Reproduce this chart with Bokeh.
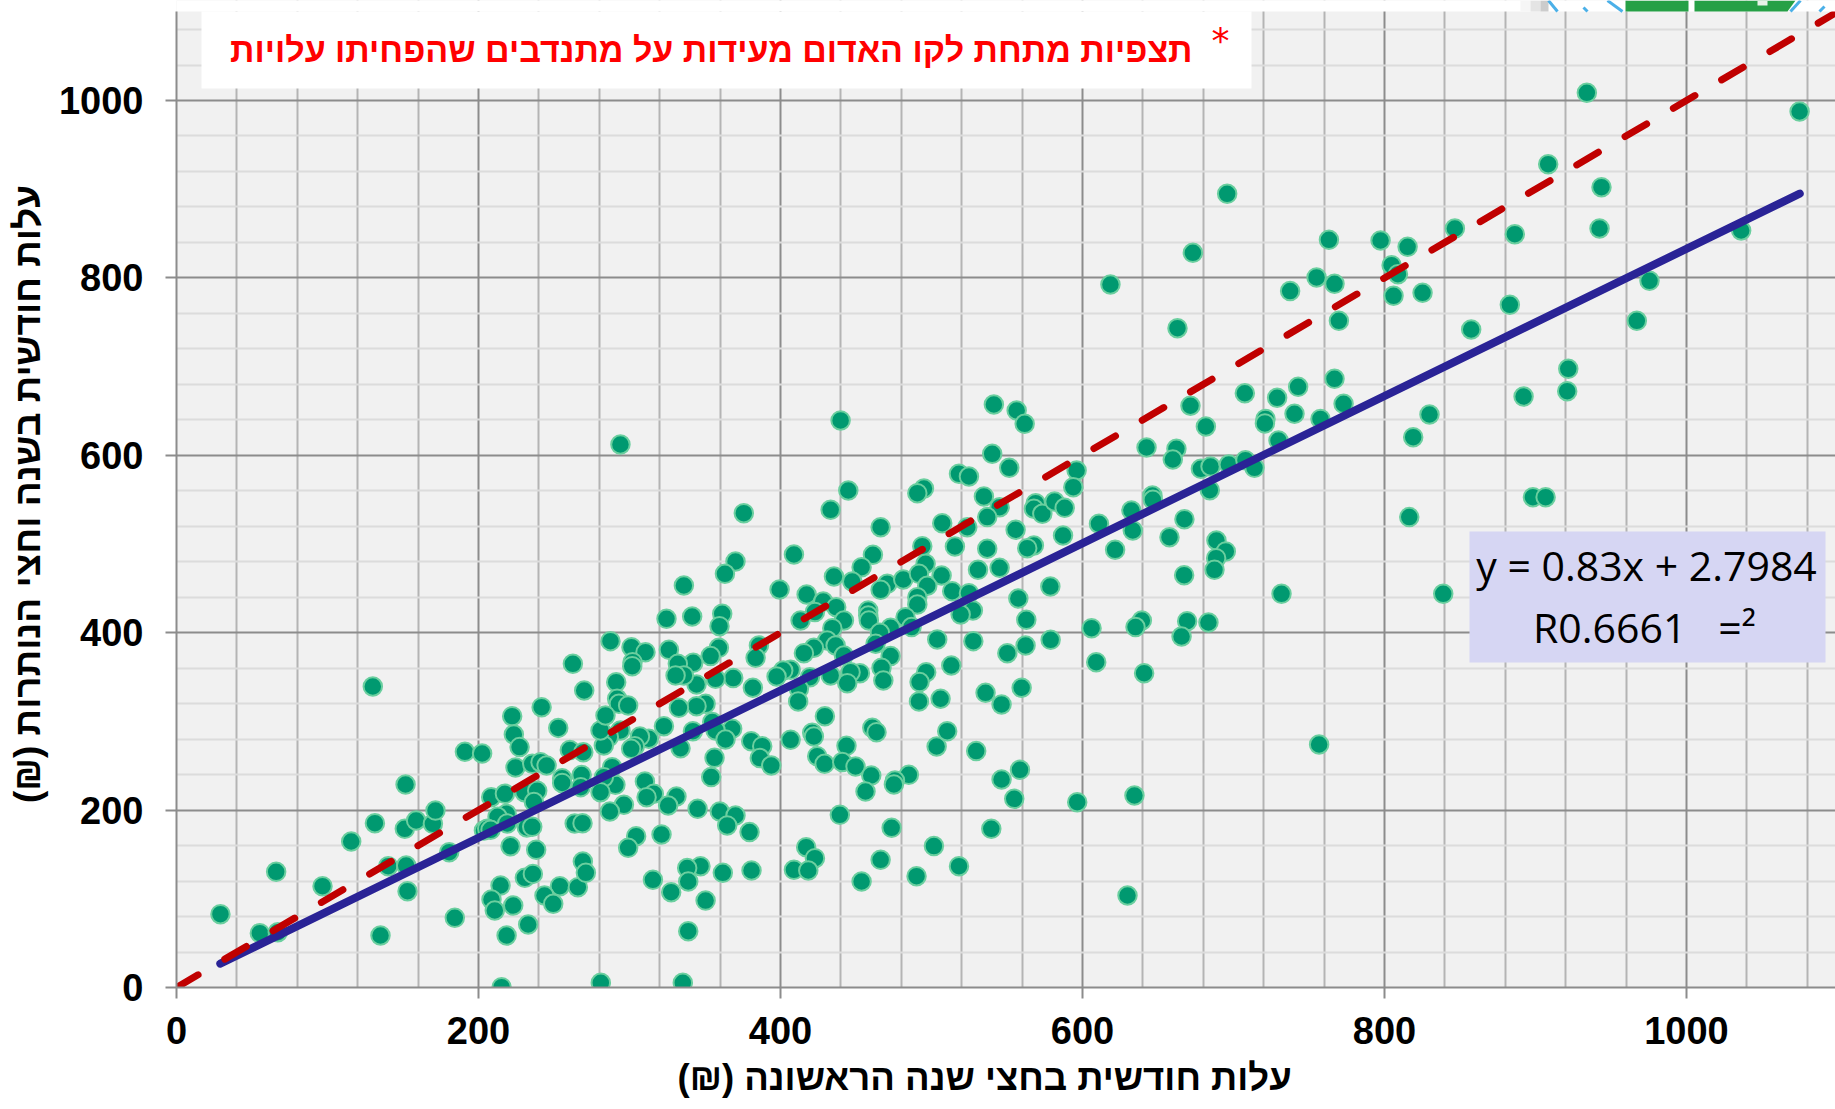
from bokeh.plotting import figure
from bokeh.models import Range1d, FixedTicker, Label, Title
from bokeh.embed import file_html
from bokeh.resources import INLINE

# Volunteers below 280
low_x = [29.1,66,55.2,67.1,135.1,96.7,115.7,131.4,130,151.7,151.2,158.7,169.8,171.5,140.2,152.1,153,180.6,184.3,191,
         202.4,208.4,217.5,218.6,212.6,219,203.6,205.8,208,221.2,238.2,214.6,208.6,210.8,223,218.6,232.9,215.3,230.7,236,
         253.9,265.8,243.7,249.5,269.1,271.1,222.3,241.8,223.4,227.2,224.5,235.6,241.1,245.1,252.8,262.5,270,260.5,269.4,230.5,
         238.9,236.7,255.4,255.4,268.3,267.7,263.7,268.9,232,235.6]
low_y = [82.7,130.4,61.3,62.4,58.6,114.2,164.6,185.3,339.3,228.9,178.9,188.3,184.5,199.5,136.8,137.5,108.6,152.6,78.5,265.7,
         263.8,214.6,218.3,195.8,192.5,185,177,178.9,177.8,159.3,155.2,115,99.2,86.8,92.4,58.6,71,0.4,123.6,128.1,
         114.2,113.1,103.7,94.3,142,129.3,305.9,316,285.2,271,248,252.2,254,250.3,292.7,364.9,334.8,267.8,265.3,220.2,
         221.7,209,236,230.6,239.6,225.9,184.9,185.3,180.5,181.1]

# Volunteers from 280 to 612: first half above 300 in the second period
mid_up_x = [541.3,556.4,561.7,439.8,294,540.2,551.5,518.2,524.8,444.9,495,490.6,534.7,545.1,536.9,569,567.8,573.4,581.5,588.2,
            596.1,593.9,587.1,610.9,433.2,375.7,466.3,507.1,523.7,555.7,515.5,536.9,567.8,563.4,370.2,363.2,408.9,461.2,453.7,493.9,
            496.1,530.8,545.1,336,435.4,447.5,470.7,466.3,481.3,491.7,506.7,497.2,513.7,524.8,399.4,557.5,578.7,417.3,428.3,422.8,
            436.9,413.3,490.6,490.6,527.4,519.3,562.8,324.5,341.5,361.4,359.6,458.1,458.1,458.5,442,434.3,482.8,472.9,465.8,486.8,
            430.9,436.5,463,606,578.9,562.3,550.2,527.7,503.8,287.4,301.3,310.6,326.1,385.7,383.5,359.2,353.7,342.2,332,302,
            301.8,422.1,415.5,442,472.9,609.1,513.1,496.5,492.1,466.9,468.1,452.6,446.4,444.2,433.2,419.5,406.7,401.8,397.4,412.2,
            411.7,381.7,368.7,357,344.4,336,330.5,291.2,535.8,546.4,559.7,491.7,506,291.8,293,299.1,350.4,344.4,332.7,284.1,429.4]
mid_up_y = [657.3,650.5,635.5,639.3,612.2,601.7,585.9,579.1,576.1,560.3,562.6,557.3,553.6,541.5,530.3,546,539.7,534,547.9,540.8,
            582.9,564.1,509.6,522.8,538.5,534.8,519,523.5,519,516,497.2,494.6,498.3,495.3,480.3,466.4,488.2,487.8,473.9,497.6,
            477.7,470.9,473.1,453.2,463.4,457.7,455.1,448.3,460,466.4,464.5,452.9,446.8,444.6,448.7,438.6,452.1,443.1,435.2,423.2,
            428.8,413.8,440.1,431.8,425,420.5,414.5,415.6,418.3,421.3,407.4,425,419.4,413.8,413.8,405.1,417.5,405.5,399.9,406.3,
            391.2,385.6,387.5,405.1,392,385.6,376.9,390.5,392.4,390.5,383.7,378.1,380.7,385.6,371.7,382.9,373.6,366,364.9,366.8,
            362.3,383,376.9,374.3,373.6,366.8,363,355.5,344.3,360.4,346.1,354.4,355.5,343.1,351.8,349.9,358.1,357.4,350.6,336.7,
            322.5,337.9,348.8,348,341.6,351.8,351.8,344.2,332.2,319.1,337.9,322.5,325.5,325.5,319.8,318,319.8,317.2,315.3,306.7,305.9]

# Volunteers from 280 to 612: below 300 in the second period
mid_down_x = [322.8,354.8,368,357,342,460.8,463.6,421,422.1,510.4,503.4,529.6,406.7,380.6,387.9,363.6,443.7,312.8,306.9,294,
              286.3,283,303.5,301.1,333.8,424.3,429.2,440.9,449.7,460.1,356.3,354.1,386.3,393.9,485,475.8,475.1,456.3,558.6,546.4,
              554.8,596.5,310.2,290.7,288.5,283,280.8,316.1,311.3,331.1,325.6,296.3,287,345.1,359.8,370.2,364.7,379.5,439.3,473.6,
              539.6,304.4,321.2,299.1,501.6,417,422.8,466.3,518.2,408.9,418.4,380.8,361.8,347,338.2,338.9,315.5,490.1,453.7,327.6,
              350.4,338.9,335.3,281,280.8]
mid_down_y = [294.6,299.2,291.6,289.8,289,292.8,287.9,287.1,283,289,271.7,266.5,279.2,277.7,272.1,279.6,272.5,280.4,283,289.8,
              282.3,272.8,272.1,269.1,269.8,260.8,252.2,254.1,249.2,239,258.9,237.2,258.6,250.3,239.8,233.4,228.9,221,245.4,234.5,
              212.7,208.9,232.3,228.5,248.4,237.1,220.2,218.4,214.6,215.3,205.2,205.9,198.4,201.4,198.4,193.9,182.7,175.2,194.7,180,
              178.9,170.6,172.5,157.5,159.4,158.2,145.8,143.9,136.8,132.7,131.9,131.9,129.3,136.8,134.6,119.5,121.4,125.5,119.5,107.5,
              98,63.5,5.3,5.3,289.8]

# Volunteers above 612
high_x = [934,1074.9,908.4,943.7,942.4,886.3,1036.2,883,975.5,967.1,695.8,673.1,618.5,662.9,763.2,797.4,815.3,804.7,808.9,806,
          825.2,755,766.9,737.5,769.8,846.6,857.4,921.7,921,892.1,829.8,819,766.9,742.8,707.5,728.9,740.4,772.9,757.6,721.2,
          720.8,729.8,671.5,681.7,642.4,662.2,659.8,678.4,684.8,696.9,707.9,713.9,684.3,646.3,646.6,898.3,906.7,632.4,667.5,633.3,
          657.6,621.6,688.7,694.9,688.5,687.4,667.3,731.8,816.4,838.9,639.3,635.1,669.3,683.4,665.6,640.8,756.7,634.4,629.8]
high_y = [1008.6,987.6,928.2,902.3,855.7,849.3,853.4,769.6,796.7,751.6,894.8,828.3,792.6,743.3,842.9,842.2,835,814.4,804.2,779.8,
          783.2,800.5,793.3,785.1,751.6,855.7,741.8,697.5,672.3,666.3,646,620.4,686.2,677.2,670,664.8,646.8,658,641,641,
          635.9,616.7,655.8,632.5,608.8,607.3,595.3,584.7,587.4,589.6,594.5,585.9,560.7,554.7,549.8,552.8,552.8,537.8,528,515.2,
          507.7,493.4,503.9,491.6,484,470.9,464.9,443.8,530.3,443.8,413.8,406.3,413,411.5,395.7,354.4,274,216.5,103.7]

# Reference and fit lines
identity_x = [0, 1100]
identity_y = [0, 1100]
trend_slope = 0.83
trend_intercept = 2.7984
trend_x = [29, 1075]
trend_y = [trend_slope * v + trend_intercept for v in trend_x]

x_major = [0, 200, 400, 600, 800, 1000]
y_major = [0, 200, 400, 600, 800, 1000]
minor_ticks = [v for v in range(0, 1100, 40) if v % 200]

x_title = "עלות חודשית בחצי שנה הראשונה (₪)\u200f"
y_title = "עלות חודשית בשנה וחצי הנותרות (₪)\u200f"
note_text = "תצפיות מתחת לקו האדום מעידות על מתנדבים שהפחיתו עלויות"
eq_line = "y = 0.83x + 2.7984"
r2_line = "R0.6661\u00a0\u00a0\u00a0=²"

XPX, YPX = 1.51, 0.887
def dx(px):
    return (px - 176) / XPX
def dy(py):
    return (987 - py) / YPX

p = figure(width=1835, height=1109, output_backend="svg", toolbar_location=None,
           x_range=Range1d(dx(176), dx(1835)), y_range=Range1d(0, dy(0)),
           min_border_left=176, min_border_right=0, min_border_top=0, min_border_bottom=122,
           background_fill_color="#f1f1f1", border_fill_color="#ffffff", outline_line_color=None)

for axis, ticks in ((p.xaxis[0], x_major), (p.yaxis[0], y_major)):
    axis.ticker = FixedTicker(ticks=ticks, minor_ticks=minor_ticks)
    axis.axis_line_color = "#8c8c8c"
    axis.axis_line_width = 2
    axis.major_tick_line_color = "#8c8c8c"
    axis.major_tick_line_width = 2
    axis.major_tick_out = 11
    axis.major_tick_in = 0
    axis.minor_tick_out = 0
    axis.minor_tick_in = 0
    axis.major_label_text_font = "Liberation Sans"
    axis.major_label_text_font_style = "bold"
    axis.major_label_text_font_size = "38px"
    axis.major_label_text_color = "#000000"
p.xaxis[0].major_label_standoff = 18
p.yaxis[0].major_label_standoff = 22
p.yaxis[0].bounds = (0, dy(11))

p.yaxis[0].axis_label = y_title
p.yaxis[0].axis_label_text_font = "Liberation Sans"
p.yaxis[0].axis_label_text_font_style = "bold"
p.yaxis[0].axis_label_text_font_size = "37px"
p.yaxis[0].axis_label_text_color = "#000000"
p.yaxis[0].axis_label_standoff = 8

p.add_layout(Title(text=x_title, align="left", offset=501, standoff=16,
                   text_font="Liberation Sans", text_font_style="bold",
                   text_font_size="36.5px", text_color="#000000"), "below")

p.xgrid[0].grid_line_color = "#8c8c8c"
p.ygrid[0].grid_line_color = "#8c8c8c"
p.xgrid[0].grid_line_width = 2
p.ygrid[0].grid_line_width = 2
p.xgrid[0].minor_grid_line_color = "#b4b4b4"
p.xgrid[0].minor_grid_line_width = 2
p.ygrid[0].minor_grid_line_color = "#dcdcdc"
p.ygrid[0].minor_grid_line_width = 2

for xs, ys in ((low_x, low_y), (mid_down_x, mid_down_y), (mid_up_x, mid_up_y), (high_x, high_y)):
    p.scatter(xs, ys, size=18.5, marker="circle", fill_color="#009970", line_color="#6bcf9f", line_width=2)

p.line(trend_x, trend_y, line_color="#2a2396", line_width=8, line_cap="round")
p.line(identity_x, identity_y, line_color="#c00000", line_width=7, line_dash="25 31", line_cap="round")

# White strip above the chart area, note box and equation box
p.quad(left=dx(176), right=dx(1835), bottom=dy(11), top=dy(0), fill_color="#ffffff", line_color=None)
p.quad(left=dx(201), right=dx(1251), bottom=dy(88), top=dy(11), fill_color="#ffffff", line_color=None)
p.quad(left=dx(1469), right=dx(1825), bottom=dy(662), top=dy(531), fill_color="#d6d6f3", line_color=None)

# Cropped picture fragment in the strip above the chart area
for left, right, colour in ((1520, 1530, "#f6f6f6"), (1530, 1540, "#e4e4e4"), (1540, 1548, "#cccccc")):
    p.quad(left=dx(left), right=dx(right), bottom=dy(11), top=dy(0), fill_color=colour, line_color=None)
for x0, x1, y0, y1 in ((1548, 1557, 0, 11), (1583, 1587, 7, 11), (1607, 1622, 0, 11), (1800, 1790, 0, 11), (1824, 1819, 6, 11)):
    p.line([dx(x0), dx(x1)], [dy(y0), dy(y1)], line_color="#4bb0e8", line_width=3)
p.patch([dx(1625), dx(1688), dx(1688), dx(1625)], [dy(0), dy(0), dy(11), dy(11)], fill_color="#26a046", line_color=None)
p.patch([dx(1694), dx(1795), dx(1787), dx(1694)], [dy(0), dy(0), dy(11), dy(11)], fill_color="#26a046", line_color=None)
p.quad(left=dx(1757), right=dx(1767), bottom=dy(5), top=dy(0), fill_color="#e8f2e8", line_color=None)

def label(text, px, py, size, color="#000000", style="bold", font="Liberation Sans", align="center"):
    p.add_layout(Label(x=dx(px), y=dy(py), text=text, text_font=font, text_font_style=style,
                       text_font_size=f"{size}px", text_color=color, text_align=align,
                       text_baseline="middle"))

label(note_text, 1192, 49, 34, color="#ff0000", align="right")
label("*", 1220, 40, 36, color="#ff0000", style="normal", font="DejaVu Sans")
label(eq_line, 1646, 564, 41, style="normal", font="Open Sans")
label(r2_line, 1644, 626, 41, style="normal", font="Open Sans")

open("out.html", "w").write(file_html(p, INLINE))
